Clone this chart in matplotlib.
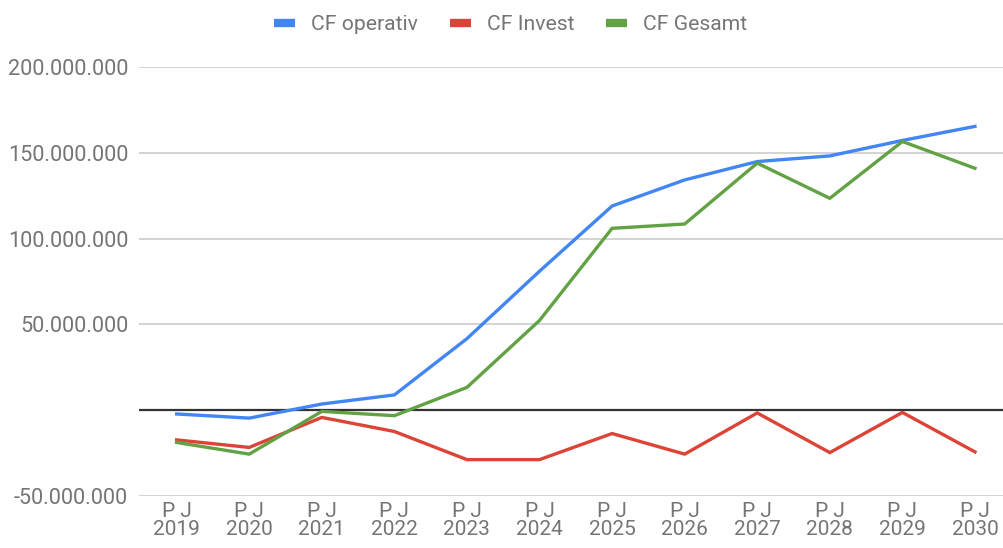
import numpy as np
import matplotlib.pyplot as plt
from matplotlib.lines import Line2D
from matplotlib.ticker import FuncFormatter

plt.rcParams['font.family'] = ['Roboto', 'DejaVu Sans']

# Daten (Mio. EUR)
jahre = ['2019', '2020', '2021', '2022', '2023', '2024',
         '2025', '2026', '2027', '2028', '2029', '2030']
cf_operativ = [-2.2, -4.6, 3.6, 8.9, 41.7, 81.0,
               119.0, 134.2, 144.9, 148.2, 157.2, 165.4]
cf_invest = [-17.3, -21.7, -4.2, -12.4, -28.8, -28.8,
             -13.6, -25.6, -1.6, -24.7, -1.3, -24.3]
cf_gesamt = [-18.8, -25.6, -0.7, -3.2, 13.3, 52.3,
             106.0, 108.5, 144.0, 123.5, 156.6, 141.0]

farben = {'CF operativ': '#4285f4', 'CF Invest': '#db4437', 'CF Gesamt': '#62a244'}
grau = '#757575'

fig = plt.figure(figsize=(10.04, 5.48), dpi=100)
ax = fig.add_axes([0.1387, 0.0949, 0.8613, 0.7828])

x = np.arange(len(jahre))
serien = [('CF operativ', cf_operativ), ('CF Invest', cf_invest), ('CF Gesamt', cf_gesamt)]
for name, werte in serien:
    ax.plot(x, np.array(werte) * 1e6, color=farben[name], lw=2.4, zorder=3,
            solid_joinstyle='miter')

ax.axhline(0, color='#333333', lw=1.6, zorder=2)
ax.set_ylim(-50e6, 200e6)
ax.set_xlim(-0.515, 11.4)
ax.set_yticks([-50e6, 50e6, 100e6, 150e6, 200e6])
ax.yaxis.set_major_formatter(FuncFormatter(lambda v, p: f'{v:,.0f}'.replace(',', '.')))
ax.grid(axis='y', color='#cccccc', lw=1.2, zorder=1)
ax.set_xticks(x)
ax.set_xticklabels(['P J\n' + j for j in jahre], linespacing=0.95)

for s in ax.spines.values():
    s.set_visible(False)
ax.tick_params(axis='both', length=0, colors=grau, labelsize=15)
ax.tick_params(axis='y', pad=8, labelsize=15.6)
ax.tick_params(axis='x', pad=4)

handles = [Line2D([], [], color=farben[n], lw=6, solid_capstyle='butt') for n, _ in serien]
fig.legend(handles, [n for n, _ in serien], loc='center', bbox_to_anchor=(0.5085, 0.955),
           ncol=3, frameon=False, fontsize=15.2, labelcolor=grau,
           handlelength=1.0, handletextpad=0.75, columnspacing=1.5)

fig.savefig('out.png', dpi=100)
